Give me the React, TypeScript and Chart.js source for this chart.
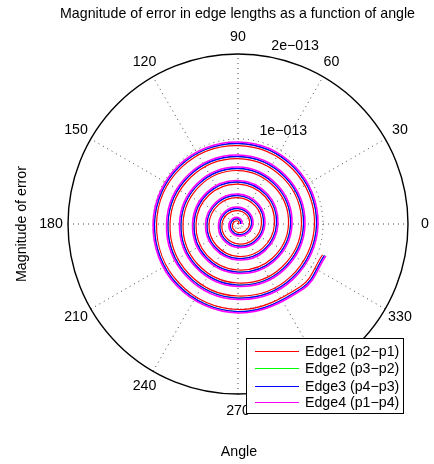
import React, { useEffect, useRef } from "react";
import { Chart, registerables } from "chart.js";

Chart.register(...registerables);

const angles = [0, 45, 90, 135, 180, 225, 270, 315, 360, 405, 450, 495, 540, 585, 630, 675, 720, 765, 810, 855, 900, 945, 990, 1035, 1080, 1125, 1170, 1215, 1260, 1305, 1350, 1395, 1440, 1485, 1530, 1575, 1620, 1665, 1710, 1755, 1800, 1845, 1890, 1935, 1980, 2025, 2070, 2115, 2160, 2205, 2250, 2295, 2340, 2385, 2430, 2475, 2500];

// Magnitude of error (units of 1e-15)
const edge1 = [0.6, 1.7, 3.5, 4.7, 6.4, 8.2, 10.0, 11.7, 13.5, 14.7, 15.8, 17.0, 18.8, 21.1, 23.5, 25.8, 27.6, 29.4, 31.1, 32.3, 34.1, 35.8, 38.2, 40.6, 42.9, 45.3, 47.0, 48.2, 49.4, 51.7, 54.1, 57.0, 59.4, 61.1, 62.9, 63.5, 64.7, 67.0, 69.4, 72.3, 74.7, 75.8, 77.0, 78.2, 80.0, 82.3, 84.7, 87.6, 90.0, 91.1, 92.3, 94.1, 95.8, 98.2, 100.6, 104.1, 105.8];
const edge2 = [3.0, 4.1, 5.9, 7.1, 8.8, 10.6, 12.4, 14.1, 15.9, 17.1, 18.2, 19.4, 21.2, 23.5, 25.9, 28.2, 30.0, 31.8, 33.5, 34.7, 36.5, 38.2, 40.6, 43.0, 45.3, 47.7, 49.4, 50.6, 51.8, 54.1, 56.5, 59.4, 61.8, 63.5, 65.3, 65.9, 67.1, 69.4, 71.8, 74.7, 77.1, 78.2, 79.4, 80.6, 82.4, 84.7, 87.1, 90.0, 92.4, 93.5, 94.7, 96.5, 98.2, 100.6, 103.0, 106.5, 108.2];
const edge3 = [3.0, 4.1, 5.9, 7.1, 8.8, 10.6, 12.4, 14.1, 15.9, 17.1, 18.2, 19.4, 21.2, 23.5, 25.9, 28.2, 30.0, 31.8, 33.5, 34.7, 36.5, 38.2, 40.6, 43.0, 45.3, 47.7, 49.4, 50.6, 51.8, 54.1, 56.5, 59.4, 61.8, 63.5, 65.3, 65.9, 67.1, 69.4, 71.8, 74.7, 77.1, 78.2, 79.4, 80.6, 82.4, 84.7, 87.1, 90.0, 92.4, 93.5, 94.7, 96.5, 98.2, 100.6, 103.0, 106.5, 108.2];
const edge4 = [4.7, 5.8, 7.6, 8.8, 10.5, 12.3, 14.1, 15.8, 17.6, 18.8, 19.9, 21.1, 22.9, 25.2, 27.6, 29.9, 31.7, 33.5, 35.2, 36.4, 38.2, 39.9, 42.3, 44.7, 47.0, 49.4, 51.1, 52.3, 53.5, 55.8, 58.2, 61.1, 63.5, 65.2, 67.0, 67.6, 68.8, 71.1, 73.5, 76.4, 78.8, 79.9, 81.1, 82.3, 84.1, 86.4, 88.8, 91.7, 94.1, 95.2, 96.4, 98.2, 99.9, 102.3, 104.7, 108.2, 109.9];

const seriesNames = ["Edge1 (p2\u2212p1)", "Edge2 (p3\u2212p2)", "Edge3 (p4\u2212p3)", "Edge4 (p1\u2212p4)"];
const seriesColors = ["#ff0000", "#00ff00", "#0000ff", "#ff00ff"];
const seriesWidths = [1.2, 1.0, 1.3, 1.6];

const ringValues = [100, 200];
const ringLabels = ["1e\u2212013", "2e\u2212013"];
const spokeAngles = [0, 30, 60, 90, 120, 150, 180, 210, 240, 270, 300, 330];
const RMAX = 200;

const FONT = "14.2px 'Liberation Sans', Arial, Helvetica, sans-serif";

function toXY(r: number[]) {
  return r.map((v, i) => {
    const t = (angles[i] * Math.PI) / 180;
    return { x: v * Math.cos(t), y: v * Math.sin(t) };
  });
}

const polarPlugin = {
  id: "polarGrid",
  beforeDatasetsDraw(chart: any) {
    const ctx = chart.ctx;
    const xs = chart.scales.x;
    const ys = chart.scales.y;
    const cx = xs.getPixelForValue(0);
    const cy = ys.getPixelForValue(0);
    const pr = (v: number) => xs.getPixelForValue(v) - cx;
    ctx.save();
    ctx.strokeStyle = "#444";
    ctx.lineWidth = 1;
    ctx.setLineDash([1, 4]);
    for (const a of spokeAngles.slice(0, 6)) {
      const t = (a * Math.PI) / 180;
      ctx.beginPath();
      ctx.moveTo(xs.getPixelForValue(-RMAX * Math.cos(t)), ys.getPixelForValue(-RMAX * Math.sin(t)));
      ctx.lineTo(xs.getPixelForValue(RMAX * Math.cos(t)), ys.getPixelForValue(RMAX * Math.sin(t)));
      ctx.stroke();
    }
    for (const rv of ringValues.slice(0, -1)) {
      ctx.beginPath();
      ctx.arc(cx, cy, pr(rv), 0, Math.PI * 2);
      ctx.stroke();
    }
    ctx.setLineDash([]);
    ctx.strokeStyle = "#000";
    ctx.lineWidth = 1.4;
    ctx.beginPath();
    ctx.arc(cx, cy, pr(RMAX), 0, Math.PI * 2);
    ctx.stroke();
    ctx.restore();
  },
  afterDraw(chart: any) {
    const ctx = chart.ctx;
    const xs = chart.scales.x;
    const ys = chart.scales.y;
    const cy = ys.getPixelForValue(0);
    ctx.save();
    ctx.fillStyle = "#000";
    ctx.font = FONT;
    ctx.textAlign = "center";
    ctx.textBaseline = "middle";
    for (const a of spokeAngles) {
      const t = (a * Math.PI) / 180;
      const rr = RMAX * 1.1;
      ctx.fillText(String(a), xs.getPixelForValue(rr * Math.cos(t)), ys.getPixelForValue(rr * Math.sin(t)));
    }
    ctx.textAlign = "left";
    ctx.textBaseline = "alphabetic";
    const c82 = (82 * Math.PI) / 180;
    ringValues.forEach((rv, i) => {
      const rt = rv + RMAX / 40;
      ctx.fillText(ringLabels[i], xs.getPixelForValue(rt * Math.cos(c82)) + 9, ys.getPixelForValue(rt * Math.sin(c82)) - 1);
    });
    ctx.textAlign = "center";
    ctx.textBaseline = "middle";
    ctx.fillText("Magnitude of error in edge lengths as a function of angle", 237.5, 14);
    ctx.fillText("Angle", 239, 452);
    ctx.save();
    ctx.translate(22, cy);
    ctx.rotate(-Math.PI / 2);
    ctx.fillText("Magnitude of error", 0, 0);
    ctx.restore();
    const lx = 246, ly = 338, lw = 157, lh = 75;
    ctx.fillStyle = "#fff";
    ctx.fillRect(lx, ly, lw, lh);
    ctx.strokeStyle = "#000";
    ctx.lineWidth = 1;
    ctx.strokeRect(lx + 0.5, ly + 0.5, lw, lh);
    const rows = [351, 368, 386, 402];
    seriesNames.forEach((n, i) => {
      ctx.strokeStyle = seriesColors[i];
      ctx.beginPath();
      ctx.moveTo(255, rows[i] + 0.5);
      ctx.lineTo(299, rows[i] + 0.5);
      ctx.stroke();
      ctx.fillStyle = "#000";
      ctx.textAlign = "left";
      ctx.textBaseline = "middle";
      ctx.fillText(n, 305, rows[i] + 1);
    });
    ctx.restore();
  },
};

export default function App() {
  const ref = useRef<HTMLCanvasElement>(null);
  useEffect(() => {
    const series = [edge1, edge2, edge3, edge4];
    const chart = new Chart(ref.current!, {
      type: "scatter",
      data: {
        datasets: series.map((s, i) => ({
          label: seriesNames[i],
          data: toXY(s),
          showLine: true,
          borderColor: seriesColors[i],
          backgroundColor: seriesColors[i],
          borderWidth: seriesWidths[i],
          pointRadius: 0,
          tension: 0.375,
          order: series.length - 1 - i,
        })),
      },
      options: {
        responsive: false,
        maintainAspectRatio: false,
        animation: false,
        layout: { padding: { left: 68, right: 26, top: 54, bottom: 70 } },
        scales: {
          x: { type: "linear", min: -RMAX, max: RMAX, display: false },
          y: { type: "linear", min: -RMAX, max: RMAX, display: false },
        },
        plugins: { legend: { display: false }, title: { display: false }, tooltip: { enabled: false } },
      },
      plugins: [polarPlugin],
    });
    return () => chart.destroy();
  }, []);
  return (
    <div style={{ position: "fixed", left: 0, top: 0, width: 434, height: 464, background: "#fff" }}>
      <canvas ref={ref} width={434} height={464} style={{ display: "block" }} />
    </div>
  );
}
